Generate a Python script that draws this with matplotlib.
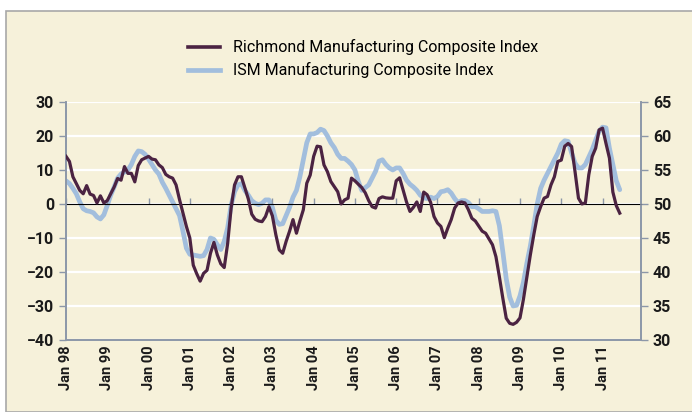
import matplotlib

matplotlib.use("Agg")
import matplotlib.pyplot as plt
import numpy as np

# Monthly values, Jan 1998 onwards
richmond = [
    14, 12.5, 8, 6, 4, 3, 5.4, 2.9, 2.5, 0.3, 2.4, 0.3,
    1, 3, 5, 7.5, 7, 11, 9, 9, 6.5, 11.3, 13, 13.5,
    14, 13.2, 13, 11.5, 10.7, 8.7, 8, 7.6, 5.6, 1.3, -2.6, -6.6,
    -10, -18, -20.5, -22.7, -20.4, -19.5, -14.5, -11.3, -15, -17.6, -18.7, -11.6,
    -1.2, 5.6, 8, 8, 4.8, 1.5, -3, -4.5, -5, -5.2, -3.7, -0.8,
    -3.5, -9, -13.5, -14.5, -11, -8, -4.6, -8.6, -5, -1.7, 6.1, 8.5,
    14, 17, 16.8, 11.5, 9.5, 6.6, 5.1, 3.6, 0, 1.2, 1.7, 7.6,
    6.8, 5.8, 4.8, 3.3, 1, -0.8, -1.2, 1.6, 2.1, 1.8, 1.7, 1.7,
    6.8, 7.7, 4.1, 0.6, -2.2, -1, 0.6, -2.2, 3.5, 2.7, 0.5, -3.7,
    -5.6, -6.6, -9.9, -7.1, -4.6, -1.2, 0.3, 0.6, 0.3, -1.7, -4.2, -5,
    -6.5, -8, -8.6, -10.3, -12, -15.5, -21.4, -27.7, -33.6, -35.1, -35.4, -34.8,
    -33.5, -28, -21.4, -15, -9.1, -3.7, -0.8, 1.7, 2.2, 5.6, 8, 12.5,
    12.9, 17, 17.8, 16.9, 9.5, 1.7, 0, 0.3, 8.6, 14, 16.4, 21.8,
    22.3, 17.8, 13.5, 3.5, -0.5, -2.7,
]

ism = [
    53.4, 53.0, 52.3, 51.5, 50.3, 49.3, 49.0, 48.9, 48.7, 48.1, 47.8, 48.4,
    49.8, 51.3, 52.5, 53.8, 54.4, 54.7, 55.0, 55.8, 57.0, 57.8, 57.7, 57.3,
    56.6, 55.8, 55.0, 54.4, 53.2, 52.3, 51.3, 50.3, 49.3, 48.3, 46.0, 43.5,
    42.6, 42.5, 42.4, 42.3, 42.4, 43.3, 45.0, 44.8, 44.0, 43.3, 44.5, 46.5,
    49.8, 51.8, 52.8, 53.0, 52.0, 51.3, 50.5, 50.1, 49.9, 50.1, 50.6, 50.6,
    49.5, 47.6, 47.0, 47.1, 48.3, 49.5, 51.0, 52.0, 54.0, 56.5, 59.0, 60.3,
    60.3, 60.5, 61.0, 60.8, 60.0, 59.0, 58.3, 57.3, 56.7, 56.7, 56.3, 55.8,
    55.0, 53.3, 52.0, 52.4, 52.8, 53.8, 54.8, 56.3, 56.5, 55.8, 55.3, 55.0,
    55.3, 55.3, 54.5, 53.5, 52.9, 52.5, 52.0, 51.3, 50.9, 50.8, 51.0, 50.8,
    51.1, 51.8, 51.9, 52.1, 51.6, 50.8, 50.2, 50.5, 50.5, 50.2, 49.6, 49.6,
    49.3, 48.9, 48.9, 48.9, 49.0, 48.9, 46.8, 43.0, 39.0, 36.3, 35.0, 35.1,
    36.5, 38.5, 41.3, 43.8, 46.8, 50.0, 52.3, 53.5, 54.5, 55.5, 56.5, 57.5,
    58.8, 59.3, 59.2, 57.5, 56.0, 55.3, 55.3, 55.8, 56.9, 58.0, 59.4, 60.7,
    61.3, 61.2, 58.2, 55.8, 53.4, 52.1,
]

year_labels = ["Jan 98", "Jan 99", "Jan 00", "Jan 01", "Jan 02", "Jan 03", "Jan 04",
               "Jan 05", "Jan 06", "Jan 07", "Jan 08", "Jan 09", "Jan 10", "Jan 11"]

left_ticks = [-40, -30, -20, -10, 0, 10, 20, 30]
right_ticks = [30, 35, 40, 45, 50, 55, 60, 65]

PURPLE = "#4b2342"
BLUE = "#a2bedd"
PLOT_BG = "#f0e3b3"
FIG_BG = "#f6f1da"
AXIS_GRAY = "#8c97a8"

plt.rcParams["font.family"] = ["Roboto", "DejaVu Sans"]


def main() -> None:
    fig = plt.figure(figsize=(6.92, 4.12), dpi=100, facecolor="white")
    frame = plt.Rectangle((0.008, 0), 1.0, 0.973, transform=fig.transFigure,
                          facecolor=FIG_BG, edgecolor="#a8a8a8", linewidth=1.2,
                          zorder=-10)
    fig.patches.append(frame)

    ax = fig.add_axes([0.0954, 0.1748, 0.831, 0.5777])
    ax2 = ax.twinx()
    # right-axis frame carries the background and gridlines; left-axis on top
    ax.set_zorder(ax2.get_zorder() + 1)
    ax.patch.set_visible(False)
    ax2.patch.set_facecolor(PLOT_BG)

    months = np.arange(len(richmond))
    ax2.plot(months, ism, color=BLUE, lw=3.4, solid_capstyle="round", zorder=2)
    ax.plot(months, richmond, color=PURPLE, lw=2.3, zorder=3)

    ax.set_xlim(0, 167.2)
    ax.set_ylim(-40, 30)
    ax2.set_ylim(30, 65)

    ax.set_yticks(left_ticks)
    ax2.set_yticks(right_ticks)
    ax2.grid(axis="y", color="white", lw=1.6, zorder=1)
    ax2.set_axisbelow(True)

    year_pos = np.arange(len(year_labels)) * 12
    ax.set_xticks(year_pos)
    ax.set_xticklabels(year_labels, rotation=90, fontsize=10.5, fontweight="bold",
                       color="#1a1a1a")
    ax.tick_params(axis="x", length=0, pad=4)
    ax.tick_params(axis="y", length=5, color=AXIS_GRAY, labelsize=11.5, width=1)
    ax2.tick_params(axis="y", length=5, color=AXIS_GRAY, labelsize=11.5, width=1)
    for lab in ax.get_yticklabels() + ax2.get_yticklabels():
        lab.set_fontweight("bold")
        lab.set_color("#1a1a1a")

    # category axis crossing at zero, with year ticks but no labels
    zero_axis = ax.secondary_xaxis(40 / 70)
    zero_axis.set_xticks(year_pos)
    zero_axis.set_xticklabels([])
    zero_axis.tick_params(length=4, color=AXIS_GRAY, width=1)
    zero_axis.spines["bottom"].set_color(AXIS_GRAY)

    for a in (ax, ax2):
        a.spines["top"].set_visible(False)
        for side in ("left", "right", "bottom"):
            a.spines[side].set_color(AXIS_GRAY)
            a.spines[side].set_linewidth(1.2)

    handles = [
        plt.Line2D([], [], color=PURPLE, lw=2.6),
        plt.Line2D([], [], color=BLUE, lw=3.4),
    ]
    fig.legend(handles, ["Richmond Manufacturing Composite Index",
                         "ISM Manufacturing Composite Index"],
               loc="upper center", bbox_to_anchor=(0.525, 0.94), frameon=False,
               fontsize=11.5, handlelength=2.0, labelspacing=0.45,
               alignment="left")

    fig.savefig("out.png", dpi=100, facecolor=fig.get_facecolor())


if __name__ == "__main__":
    main()
